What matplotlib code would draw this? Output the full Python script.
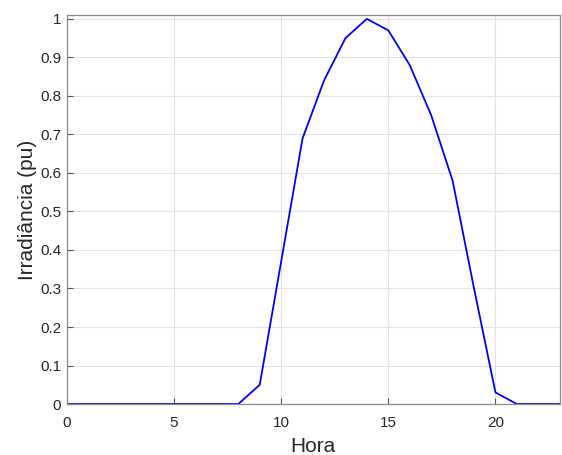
import numpy as np
import matplotlib.pyplot as plt

plt.rcParams['font.family'] = ['Liberation Sans', 'DejaVu Sans']

hora = np.arange(24)
irradiancia = [0, 0, 0, 0, 0, 0, 0, 0, 0, 0.05, 0.37, 0.69, 0.84, 0.95,
               1.0, 0.97, 0.88, 0.75, 0.58, 0.30, 0.03, 0, 0, 0]

fig = plt.figure(figsize=(5.62, 4.55), dpi=100)
ax = fig.add_axes([0.119, 0.112, 0.877, 0.855])

ax.plot(hora, irradiancia, color='#0000ff', lw=1.3)

ax.set_xlim(0, 23)
ax.set_ylim(0, 1.01)
ax.set_xticks([0, 5, 10, 15, 20])
ax.set_yticks(np.arange(0, 1.01, 0.1))
ax.set_yticklabels(['0', '0.1', '0.2', '0.3', '0.4', '0.5', '0.6', '0.7', '0.8', '0.9', '1'])

ax.grid(True, color='#e3e3e3', lw=0.8)
ax.set_axisbelow(True)
for s in ax.spines.values():
    s.set_color('#8c8c8c')
    s.set_linewidth(0.9)
ax.tick_params(direction='in', length=4, width=0.8, color='#555555',
               labelsize=11, labelcolor='#262626', pad=4)
ax.tick_params(axis='x', pad=8.5)

ax.set_xlabel('Hora', fontsize=15, color='#262626', labelpad=5)
ax.set_ylabel('Irradiância (pu)', fontsize=15, color='#262626', labelpad=2.5)

fig.savefig('out.png', dpi=100)
